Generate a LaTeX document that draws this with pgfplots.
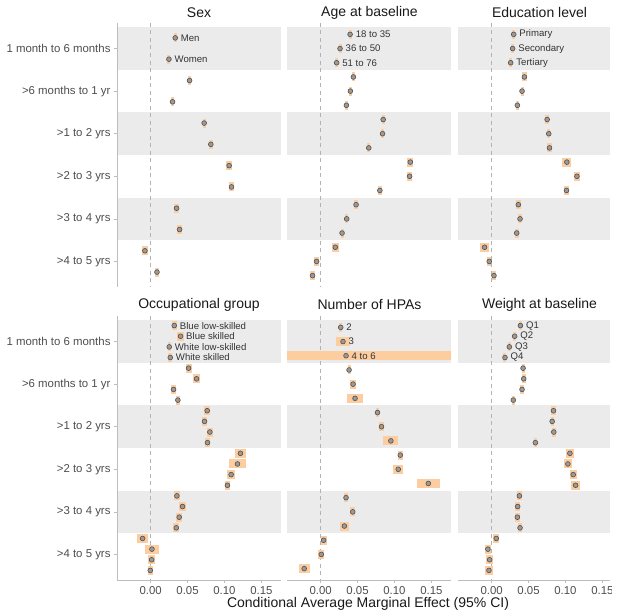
\documentclass[border=0pt]{standalone}
\usepackage{fontspec}
\setmainfont{Liberation Sans}
\usepackage{pgfplots}
\usepackage{pgfplotstable}
\pgfplotsset{compat=1.18}
\definecolor{band}{HTML}{EBEBEB}
\definecolor{ciorange}{HTML}{FDCDA0}
\definecolor{ptfill}{HTML}{9A9A9A}
\definecolor{ptdraw}{HTML}{505050}
\definecolor{axgray}{HTML}{BDBDBD}
\definecolor{dashgray}{HTML}{B3B3B3}
\definecolor{labgray}{HTML}{4D4D4D}

\pgfplotstableread{
y x ex
0.75 0.0333 0.002
1.25 0.0248 0.002
1.75 0.0527 0.002
2.25 0.0297 0.002
2.75 0.0725 0.002
3.25 0.0815 0.003
3.75 0.1063 0.004
4.25 0.1095 0.004
4.75 0.0351 0.003
5.25 0.0392 0.003
5.75 -0.0077 0.004
6.25 0.0086 0.003
}\sexdata

\pgfplotstableread{
y x ex
0.667 0.0399 0.002
1.0 0.0263 0.002
1.333 0.0217 0.002
1.667 0.0444 0.002
2.0 0.0403 0.002
2.333 0.0349 0.002
2.667 0.0847 0.002
3.0 0.0838 0.002
3.333 0.0652 0.002
3.667 0.1214 0.004
4.0 0.1205 0.003
4.333 0.0802 0.003
4.667 0.0480 0.003
5.0 0.0353 0.002
5.333 0.0290 0.002
5.667 0.0199 0.005
6.0 -0.0054 0.003
6.333 -0.0109 0.003
}\agedata

\pgfplotstableread{
y x ex
0.667 0.0299 0.002
1.0 0.0285 0.002
1.333 0.0258 0.002
1.667 0.0444 0.003
2.0 0.0412 0.002
2.333 0.0349 0.002
2.667 0.0752 0.003
3.0 0.0774 0.002
3.333 0.0784 0.003
3.667 0.1019 0.006
4.0 0.1155 0.004
4.333 0.1014 0.003
4.667 0.0362 0.003
5.0 0.0385 0.003
5.333 0.0340 0.003
5.667 -0.0095 0.006
6.0 -0.0032 0.003
6.333 0.0032 0.003
}\edudata

\pgfplotstableread{
y x ex
0.625 0.0320 0.0036
0.875 0.0405 0.005
1.125 0.0252 0.002
1.375 0.0266 0.003
1.625 0.0514 0.004
1.875 0.0622 0.005
2.125 0.0311 0.003
2.375 0.0369 0.003
2.625 0.0766 0.004
2.875 0.0730 0.004
3.125 0.0802 0.004
3.375 0.0770 0.003
3.625 0.1216 0.008
3.875 0.1176 0.011
4.125 0.1090 0.0056
4.375 0.1040 0.0036
4.625 0.0356 0.004
4.875 0.0432 0.005
5.125 0.0387 0.004
5.375 0.0347 0.004
5.625 -0.0108 0.0077
5.875 0.0018 0.0095
6.125 0.0014 0.005
6.375 -0.0005 0.0035
}\occdata

\pgfplotstableread{
y x ex
0.667 0.0272 0.002
1.0 0.0303 0.009
1.333 0.0344 0.30
1.667 0.0385 0.002
2.0 0.0439 0.004
2.333 0.0466 0.011
2.667 0.0770 0.002
3.0 0.0824 0.0036
3.333 0.0951 0.010
3.667 0.1078 0.0036
4.0 0.1051 0.0068
4.333 0.1458 0.0158
4.667 0.0344 0.003
5.0 0.0435 0.0036
5.333 0.0322 0.006
5.667 0.0041 0.004
6.0 0.0009 0.004
6.333 -0.0222 0.0077
}\hpadata

\pgfplotstableread{
y x ex
0.625 0.0390 0.002
0.875 0.0312 0.002
1.125 0.0240 0.002
1.375 0.0181 0.002
1.625 0.0426 0.002
1.875 0.0435 0.003
2.125 0.0412 0.003
2.375 0.0294 0.002
2.625 0.0838 0.003
2.875 0.0820 0.002
3.125 0.0842 0.003
3.375 0.0593 0.002
3.625 0.1060 0.005
3.875 0.1033 0.005
4.125 0.1105 0.005
4.375 0.1137 0.006
4.625 0.0376 0.003
4.875 0.0353 0.003
5.125 0.0349 0.003
5.375 0.0385 0.003
5.625 0.0063 0.004
5.875 -0.0050 0.004
6.125 -0.0027 0.005
6.375 -0.0036 0.005
}\wtdata

\pgfplotsset{
  panel/.style={
    scale only axis, height=264pt, width=164pt,
    ymin=0.4, ymax=6.6, y dir=reverse,
    xmin=-0.0455, xmax=0.1765,
    axis line style={draw=none},
    every outer x axis line/.append style={draw=none},
    every outer y axis line/.append style={draw=none},
    clip mode=individual,
    tick align=outside, major tick length=3pt,
    tick style={draw=axgray, line width=0.6pt},
    ticklabel style={text=labgray, font=\fontsize{11.4}{13}\selectfont},
    xtick={0,0.05,0.1,0.15}, xticklabels={0.00,0.05,0.10,0.15},
    ytick={1,2,3,4,5,6},
    yticklabels={1 month to 6 months,>6 months to 1 yr,>1 to 2 yrs,>2 to 3 yrs,>3 to 4 yrs,>4 to 5 yrs},
    xtick pos=bottom, ytick pos=left,
  },
  top/.style={xtick=\empty},
  inner/.style={ytick=\empty},
  pts/.style={only marks, mark=*, mark size=2.4pt,
    mark options={fill=ptfill, draw=ptdraw, line width=0.6pt},
    error bars/.cd, x dir=both, x explicit, error mark=none,
    error bar style={line width=9pt, draw=ciorange}},
}
\tikzset{
  lab/.style={anchor=west, inner sep=0pt, xshift=5.5pt,
    font=\fontsize{9.6}{11}\selectfont, text=black!80},
}
\newcommand{\XL}{\pgfkeysvalueof{/pgfplots/xmin}}
\newcommand{\XR}{\pgfkeysvalueof{/pgfplots/xmax}}
\newcommand{\drawbands}{%
  \fill[band] (axis cs:\XL,0.5) rectangle (axis cs:\XR,1.5);
  \fill[band] (axis cs:\XL,2.5) rectangle (axis cs:\XR,3.5);
  \fill[band] (axis cs:\XL,4.5) rectangle (axis cs:\XR,5.5);
  \draw[dashgray, line width=0.6pt, dash pattern=on 4pt off 3.5pt] (axis cs:0,0.4) -- (axis cs:0,6.6);
}
\newcommand{\drawleftaxis}{\draw[axgray, line width=0.9pt] (axis cs:\XL,0.4) -- (axis cs:\XL,6.6);}
\newcommand{\drawbottomaxis}{\draw[axgray, line width=0.9pt] (axis cs:\XL,6.6) -- (axis cs:\XR,6.6);}

\begin{document}
\begin{tikzpicture}
\useasboundingbox (0pt,0pt) rectangle (622pt,615pt);

% ---------- top row ----------
\begin{axis}[panel, top, at={(117pt,328pt)}, anchor=south west]
\drawbands
\addplot[pts] table[x=x,y=y,x error=ex] {\sexdata};
\drawleftaxis
\node[lab] at (axis cs:0.0333,0.75) {Men};
\node[lab] at (axis cs:0.0248,1.25) {Women};
\end{axis}

\begin{axis}[panel, top, inner, at={(287pt,328pt)}, anchor=south west]
\drawbands
\addplot[pts] table[x=x,y=y,x error=ex] {\agedata};
\node[lab] at (axis cs:0.0399,0.667) {18 to 35};
\node[lab] at (axis cs:0.0263,1.0) {36 to 50};
\node[lab] at (axis cs:0.0217,1.333) {51 to 76};
\end{axis}

\begin{axis}[panel, top, inner, width=152pt, xmax=0.1603, at={(458pt,328pt)}, anchor=south west]
\drawbands
\addplot[pts] table[x=x,y=y,x error=ex] {\edudata};
\node[lab] at (axis cs:0.0299,0.667) {Primary};
\node[lab] at (axis cs:0.0285,1.0) {Secondary};
\node[lab] at (axis cs:0.0258,1.333) {Tertiary};
\end{axis}

% ---------- bottom row ----------
\begin{axis}[panel, at={(117pt,35pt)}, anchor=south west]
\drawbands
\addplot[pts] table[x=x,y=y,x error=ex] {\occdata};
\drawleftaxis
\drawbottomaxis
\node[lab] at (axis cs:0.0320,0.625) {Blue low-skilled};
\node[lab] at (axis cs:0.0405,0.875) {Blue skilled};
\node[lab] at (axis cs:0.0252,1.125) {White low-skilled};
\node[lab] at (axis cs:0.0266,1.375) {White skilled};
\end{axis}

\begin{axis}[panel, inner, at={(287pt,35pt)}, anchor=south west]
\drawbands
\addplot[pts] table[x=x,y=y,x error=ex] {\hpadata};
\drawbottomaxis
\node[lab] at (axis cs:0.0272,0.667) {2};
\node[lab] at (axis cs:0.0303,1.0) {3};
\node[lab] at (axis cs:0.0344,1.333) {4 to 6};
\end{axis}

\begin{axis}[panel, inner, width=152pt, xmax=0.1603, at={(458pt,35pt)}, anchor=south west]
\drawbands
\addplot[pts] table[x=x,y=y,x error=ex] {\wtdata};
\drawbottomaxis
\node[lab] at (axis cs:0.0390,0.625) {Q1};
\node[lab] at (axis cs:0.0312,0.875) {Q2};
\node[lab] at (axis cs:0.0240,1.125) {Q3};
\node[lab] at (axis cs:0.0181,1.375) {Q4};
\end{axis}

% ---------- titles ----------
\begin{scope}[every node/.style={font=\fontsize{14}{16}\selectfont, text=black!90}]
\node at (199pt,602.5pt) {Sex};
\node at (369.5pt,602.5pt) {Age at baseline};
\node at (539.5pt,602.5pt) {Education level};
\node at (199pt,310pt) {Occupational group};
\node at (369.5pt,310pt) {Number of HPAs};
\node at (539.5pt,310pt) {Weight at baseline};
\node at (368pt,11pt) {Conditional Average Marginal Effect (95\% CI)};
\end{scope}
\fill[white] (612pt,0pt) rectangle (622pt,615pt);
\end{tikzpicture}
\end{document}
